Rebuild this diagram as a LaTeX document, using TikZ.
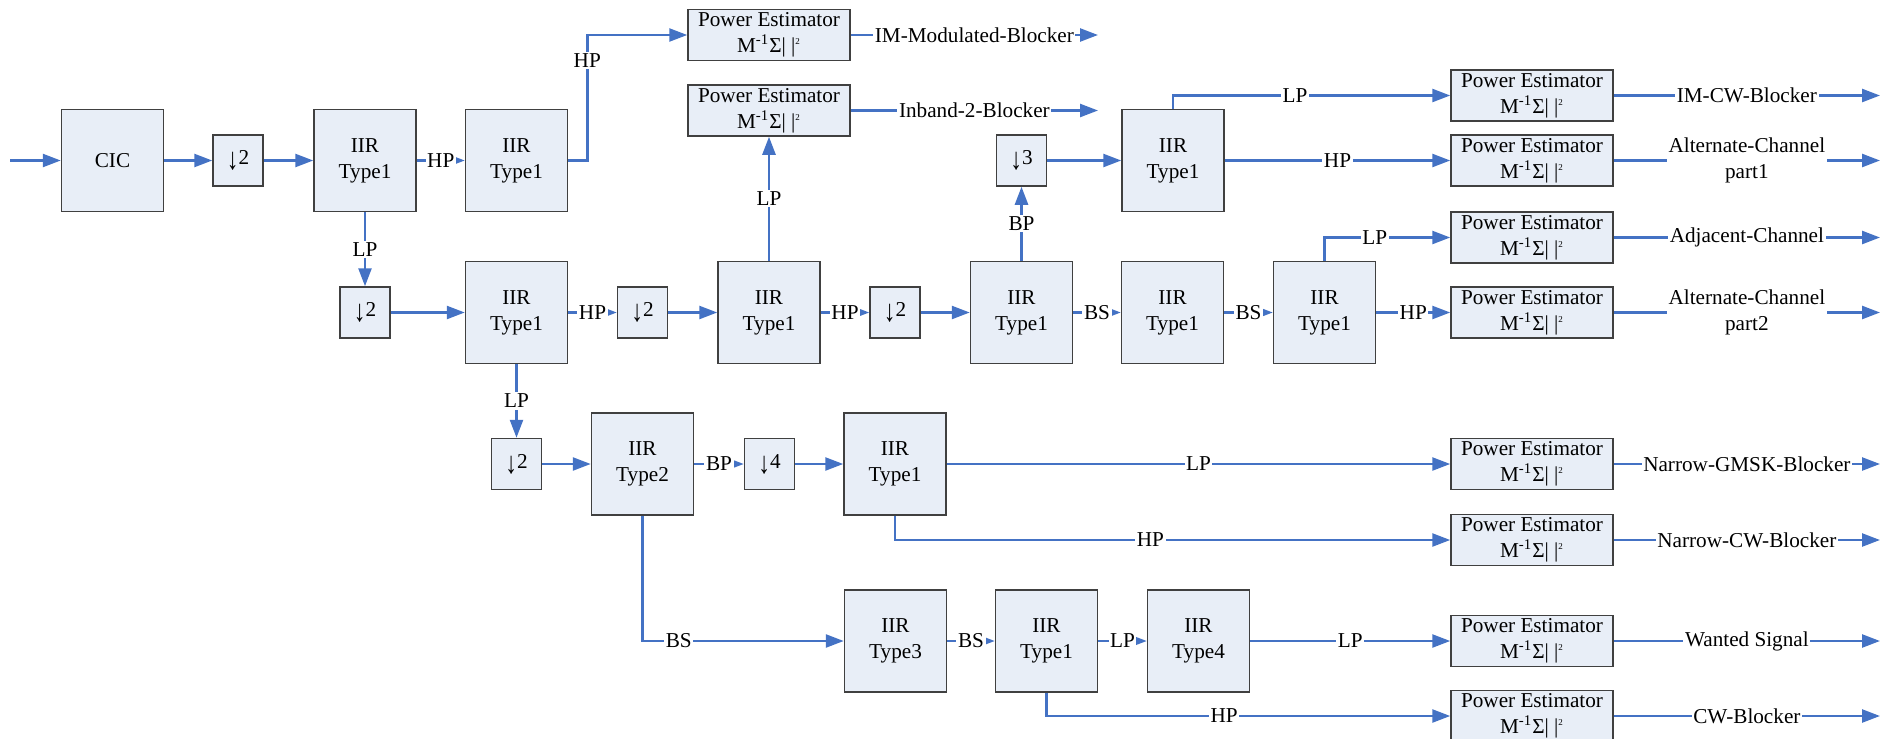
\documentclass[tikz,border=0pt]{standalone}
\usepackage{fontspec}
\setmainfont{Liberation Serif}
\usetikzlibrary{arrows.meta,positioning}
\definecolor{flowblue}{RGB}{68,114,196}
\definecolor{boxfill}{RGB}{232,238,247}
\definecolor{boxline}{RGB}{64,64,64}
\newcommand{\pwr}{Power Estimator\\M\textsuperscript{-1}Σ| |\textsuperscript{\fontsize{4.5}{5}\selectfont 2}}
\newcommand{\dwn}[1]{\raisebox{-2.5pt}{\scalebox{1.1}[1.45]{↓}}#1}

\begin{document}
\begin{tikzpicture}[x=0.5pt,y=-0.5pt]
  \tikzstyle{blk}=[draw=boxline,line width=0.75pt,fill=boxfill,minimum width=51pt,
    minimum height=51pt,align=center,inner sep=0pt,font=\fontsize{10.6}{13}\selectfont]
  \tikzstyle{dec}=[blk,minimum width=25pt,minimum height=25.5pt]
  \tikzstyle{pe}=[blk,minimum width=81pt,minimum height=25.5pt]
  \tikzstyle{lab}=[fill=white,text=black,inner sep=0.8pt,align=center,font=\fontsize{10.6}{13}\selectfont]
  \tikzstyle{f}=[-{Triangle[length=9pt,width=6.5pt]},flowblue,line width=1.25pt]

  \useasboundingbox (0,0) rectangle (1881,739);

  % first row
  \node[blk] (cic) at (112.5,160.5) {CIC};
  \node[dec] (d1) at (238,160.5) {\dwn{2}};
  \node[blk] (f1) at (365,160.5) {IIR\\Type1};
  \node[blk] (f2) at (516.5,160.5) {IIR\\Type1};
  \node[pe] (pe1) at (769,35) {\pwr};
  \node[pe] (pe2) at (769,110.5) {\pwr};
  \node[dec] (d6) at (1021.5,160.5) {\dwn{3}};
  \node[blk] (f6) at (1173,160.5) {IIR\\Type1};

  % second row
  \node[dec] (d2) at (365,312.5) {\dwn{2}};
  \node[blk] (f3) at (516.5,312.5) {IIR\\Type1};
  \node[dec] (d3) at (642.5,312.5) {\dwn{2}};
  \node[blk] (f4) at (769,312.5) {IIR\\Type1};
  \node[dec] (d4) at (895,312.5) {\dwn{2}};
  \node[blk] (f5) at (1021.5,312.5) {IIR\\Type1};
  \node[blk] (f7) at (1172.5,312.5) {IIR\\Type1};
  \node[blk] (f8) at (1324.5,312.5) {IIR\\Type1};

  % third and fourth rows
  \node[dec] (d5) at (516.5,464) {\dwn{2}};
  \node[blk] (f9) at (642.5,464) {IIR\\Type2};
  \node[dec] (d7) at (769.5,464) {\dwn{4}};
  \node[blk] (f10) at (895,464) {IIR\\Type1};
  \node[blk] (f11) at (895.5,641) {IIR\\Type3};
  \node[blk] (f12) at (1046.5,641) {IIR\\Type1};
  \node[blk] (f13) at (1198.5,641) {IIR\\Type4};

  % power estimators on the right
  \node[pe] (pe3) at (1532,95.5) {\pwr};
  \node[pe] (pe4) at (1532,160.5) {\pwr};
  \node[pe] (pe5) at (1532,237.5) {\pwr};
  \node[pe] (pe6) at (1532,312.5) {\pwr};
  \node[pe] (pe7) at (1532,464) {\pwr};
  \node[pe] (pe8) at (1532,540) {\pwr};
  \node[pe] (pe9) at (1532,641) {\pwr};
  \node[pe] (pe10) at (1532,716) {\pwr};

  \coordinate (in) at (10,160.5);
  \coordinate (ox) at (1098,0);
  \coordinate (rx) at (1880,0);

  \draw[f] (in) -- (cic);
  \draw[f] (cic) -- (d1);
  \draw[f] (d1) -- (f1);
  \draw[f] (f1) -- node[lab]{HP} (f2);
  \draw[f] (f2.east) -- ++(19,0) |- node[lab,pos=0.4]{HP} (pe1.west);
  \draw[f] (f1) -- node[lab]{LP} (d2);
  \draw[f] (d2) -- (f3);
  \draw[f] (f3) -- node[lab]{HP} (d3);
  \draw[f] (d3) -- (f4);
  \draw[f] (f4) -- node[lab]{LP} (pe2);
  \draw[f] (f4) -- node[lab]{HP} (d4);
  \draw[f] (d4) -- (f5);
  \draw[f] (f5) -- node[lab]{BP} (d6);
  \draw[f] (d6) -- (f6);
  \draw[f] (f6.north) |- node[lab,pos=0.72]{LP} (pe3.west);
  \draw[f] (f6) -- node[lab]{HP} (pe4);
  \draw[f] (f5) -- node[lab]{BS} (f7);
  \draw[f] (f7) -- node[lab]{BS} (f8);
  \draw[f] (f8.north) |- node[lab,pos=0.7]{LP} (pe5.west);
  \draw[f] (f8) -- node[lab]{HP} (pe6);
  \draw[f] (f3) -- node[lab]{LP} (d5);
  \draw[f] (d5) -- (f9);
  \draw[f] (f9) -- node[lab]{BP} (d7);
  \draw[f] (d7) -- (f10);
  \draw[f] (f10) -- node[lab]{LP} (pe7);
  \draw[f] (f10.south) |- node[lab,pos=0.73]{HP} (pe8.west);
  \draw[f] (f9.south) |- node[lab,pos=0.59]{BS} (f11.west);
  \draw[f] (f11) -- node[lab]{BS} (f12);
  \draw[f] (f12) -- node[lab]{LP} (f13);
  \draw[f] (f13) -- node[lab]{LP} (pe9);
  \draw[f] (f12.south) |- node[lab,pos=0.72]{HP} (pe10.west);

  % outputs
  \draw[f] (pe1.east) -- node[lab]{IM-Modulated-Blocker} (pe1.east -| ox);
  \draw[f] (pe2.east) -- node[lab]{Inband-2-Blocker} (pe2.east -| ox);
  \foreach \n/\t in {pe3/IM-CW-Blocker,pe4/{Alternate-Channel\\part1},pe5/Adjacent-Channel,
      pe6/{Alternate-Channel\\part2},pe7/Narrow-GMSK-Blocker,pe8/Narrow-CW-Blocker,
      pe9/Wanted Signal,pe10/CW-Blocker}
    \draw[f] (\n.east) -- node[lab]{\t} (\n.east -| rx);
\end{tikzpicture}
\end{document}
